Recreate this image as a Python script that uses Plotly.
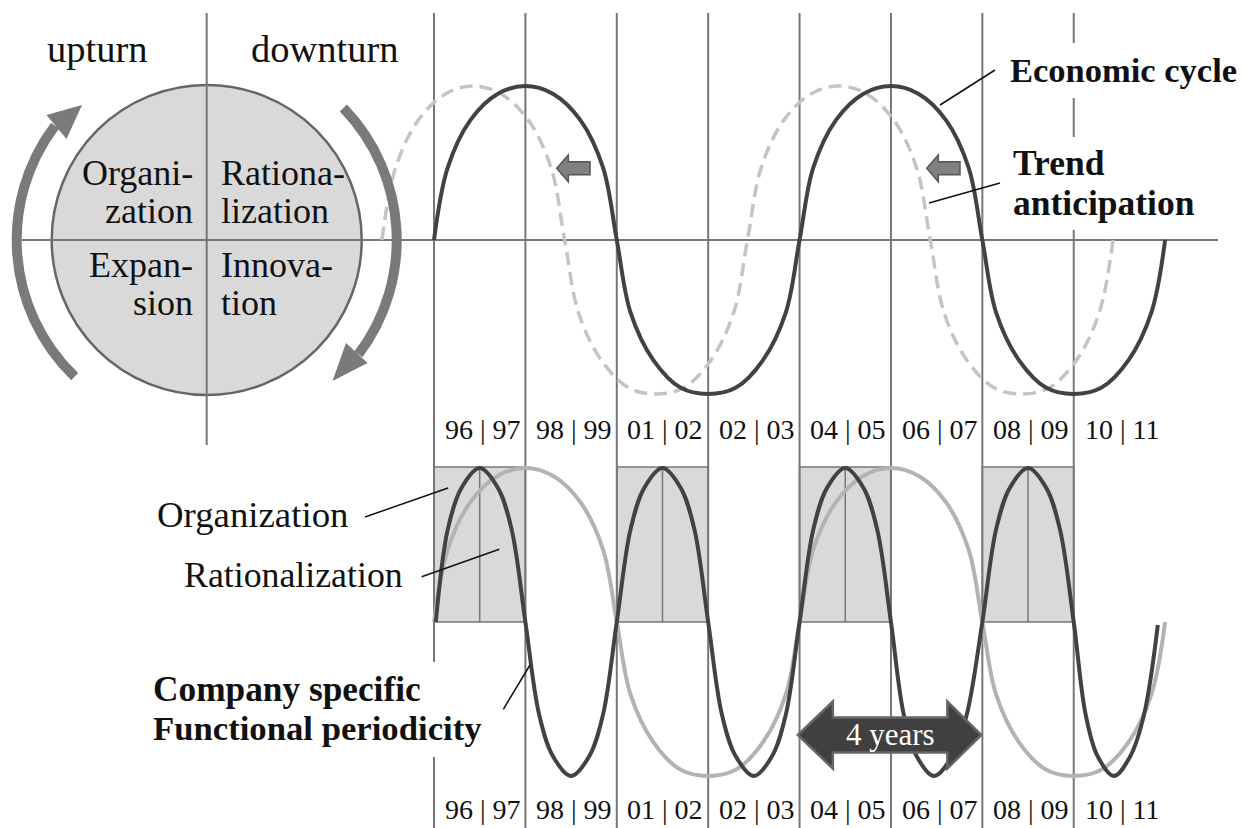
import math
import plotly.graph_objects as go

# ---------------- data ----------------
# x unit = one two-year period column (0 = left edge of "96 | 97")
period_labels = ["96 | 97", "98 | 99", "01 | 02", "02 | 03",
                 "04 | 05", "06 | 07", "08 | 09", "10 | 11"]
period_columns = [0, 1, 2, 3, 4, 5, 6, 7]

# economic cycle (amplitude units, top panel)
econ_x = [0.0, 0.15, 0.4, 0.7, 1.0, 1.3, 1.6, 1.85,
          2.0, 2.15, 2.4, 2.7, 3.0, 3.3, 3.6, 3.85,
          4.0, 4.15, 4.4, 4.7, 5.0, 5.3, 5.6, 5.85,
          6.0, 6.15, 6.4, 6.7, 7.0, 7.3, 7.6, 7.85, 8.0]
econ_y = [0.0, 0.47, 0.78, 0.95, 1.0, 0.95, 0.78, 0.47,
          0.0, -0.47, -0.78, -0.96, -1.0, -0.96, -0.78, -0.47,
          0.0, 0.47, 0.78, 0.95, 1.0, 0.95, 0.78, 0.47,
          0.0, -0.47, -0.78, -0.96, -1.0, -0.96, -0.78, -0.47, 0.0]
trend_lead = 0.57   # trend anticipation runs this many columns ahead

# company specific functional periodicity (bottom panel)
func_x = [0.02, 0.15, 0.3, 0.5, 0.7, 0.85, 1.0, 1.15, 1.3, 1.5, 1.7, 1.85,
          2.0, 2.15, 2.3, 2.5, 2.7, 2.85, 3.0, 3.15, 3.3, 3.5, 3.7, 3.85,
          4.0, 4.15, 4.3, 4.5, 4.7, 4.85, 5.0, 5.14, 5.28, 5.47, 5.67, 5.83,
          6.0, 6.15, 6.3, 6.5, 6.7, 6.85, 7.0, 7.13, 7.26, 7.44, 7.62, 7.77, 7.92]
func_y = [0.0, 0.6, 0.87, 1.0, 0.87, 0.6, 0.0, -0.6, -0.87, -1.0, -0.87, -0.6,
          0.0, 0.6, 0.87, 1.0, 0.87, 0.6, 0.0, -0.6, -0.87, -1.0, -0.87, -0.6,
          0.0, 0.6, 0.87, 1.0, 0.87, 0.6, 0.0, -0.6, -0.87, -1.0, -0.87, -0.6,
          0.0, 0.6, 0.87, 1.0, 0.87, 0.6, 0.0, -0.6, -0.87, -1.0, -0.87, -0.6, -0.02]

phase_box_columns = [0, 2, 4, 6]   # organization | rationalization boxes
span_years_cols = [4, 6]           # "4 years" arrow
span_label = "4 years"

quadrant_left = [("Organi-", "zation"), ("Expan-", "sion")]
quadrant_right = [("Rationa-", "lization"), ("Innova-", "tion")]

# ---------------- geometry / style ----------------
W, H = 1248, 828
X0, COL = 434.0, 91.39
TOP_ZERO, BOT_ZERO, AMP = 240.0, 622.0, 154.0
FONT = "Liberation Serif"
LINE_GREY = "#777777"
DARK = "#424242"
# pixel gaps in period lines where labels sit on them
line_gaps = {0: [(662, 757)], 7: [(43, 98), (137, 230)]}


def X(px):
    return (px - X0) / COL


def Y(py):
    return (TOP_ZERO - py) / AMP


def poly(pts):
    return "M " + " L ".join(f"{X(a):.5f},{Y(b):.5f}" for a, b in pts) + " Z"


def arc_path(cx, cy, r, a0, a1):
    t0, t1 = math.radians(a0), math.radians(a1)
    k = 4.0 / 3.0 * math.tan((t1 - t0) / 4.0)
    p0 = (cx + r * math.cos(t0), cy - r * math.sin(t0))
    p3 = (cx + r * math.cos(t1), cy - r * math.sin(t1))
    d0 = (-r * math.sin(t0), -r * math.cos(t0))
    d1 = (-r * math.sin(t1), -r * math.cos(t1))
    p1 = (p0[0] + k * d0[0], p0[1] + k * d0[1])
    p2 = (p3[0] - k * d1[0], p3[1] - k * d1[1])
    return (f"M {X(p0[0]):.5f},{Y(p0[1]):.5f} C {X(p1[0]):.5f},{Y(p1[1]):.5f} "
            f"{X(p2[0]):.5f},{Y(p2[1]):.5f} {X(p3[0]):.5f},{Y(p3[1]):.5f}")


fig = go.Figure()

# trend anticipation (dashed)
fig.add_trace(go.Scatter(
    x=[v - trend_lead for v in econ_x], y=econ_y, mode="lines", yaxis="y",
    line=dict(color="#c4c4c4", width=3.5, dash="13px,7px", shape="spline", smoothing=1),
    hoverinfo="skip", showlegend=False))
# economic cycle
fig.add_trace(go.Scatter(
    x=econ_x, y=econ_y, mode="lines", yaxis="y",
    line=dict(color=DARK, width=4, shape="spline", smoothing=1),
    hoverinfo="skip", showlegend=False))
# economic cycle repeated in bottom panel
fig.add_trace(go.Scatter(
    x=econ_x, y=econ_y, mode="lines", yaxis="y2",
    line=dict(color="#b3b3b3", width=4, shape="spline", smoothing=1),
    hoverinfo="skip", showlegend=False))
# functional periodicity
fig.add_trace(go.Scatter(
    x=func_x, y=func_y, mode="lines", yaxis="y2",
    line=dict(color=DARK, width=4, shape="spline", smoothing=1),
    hoverinfo="skip", showlegend=False))

shapes = []
# circle
CX, CY, R = 206.7, 240.0, 155.0
shapes.append(dict(type="circle", xref="x", yref="y", layer="below",
                   x0=X(CX - R), x1=X(CX + R), y0=Y(CY + R), y1=Y(CY - R),
                   fillcolor="#d9d9d9", line=dict(color="#666666", width=2.5)))
# phase boxes in the bottom panel
box_top = (BOT_ZERO - 467.0) / AMP
for c in phase_box_columns:
    shapes.append(dict(type="rect", xref="x", yref="y2", layer="below",
                       x0=c, x1=c + 1, y0=0, y1=box_top,
                       fillcolor="#d9d9d9", line=dict(color=LINE_GREY, width=1.5)))
    shapes.append(dict(type="line", xref="x", yref="y2", layer="below",
                       x0=c + 0.5, x1=c + 0.5, y0=0, y1=box_top,
                       line=dict(color=LINE_GREY, width=1.5)))
# vertical period lines (interrupted where labels sit on them)
for c in period_columns:
    start = 13
    segs = []
    for g0, g1 in line_gaps.get(c, []):
        segs.append((start, g0))
        start = g1
    segs.append((start, H))
    for a, b in segs:
        shapes.append(dict(type="line", xref="x", yref="y", layer="below",
                           x0=c, x1=c, y0=Y(a), y1=Y(b),
                           line=dict(color=LINE_GREY, width=2)))
# circle divider and horizontal axis
shapes.append(dict(type="line", xref="x", yref="y", layer="below",
                   x0=X(CX), x1=X(CX), y0=Y(13), y1=Y(445),
                   line=dict(color=LINE_GREY, width=2)))
shapes.append(dict(type="line", xref="x", yref="y", layer="below",
                   x0=X(22), x1=X(1218), y0=0, y1=0,
                   line=dict(color=LINE_GREY, width=2)))

# circular arrows
ARC = "#7a7a7a"
shapes.append(dict(type="path", xref="x", yref="y", layer="above",
                   path=arc_path(CX, CY, 190, 226, 143),
                   line=dict(color=ARC, width=10)))
shapes.append(dict(type="path", xref="x", yref="y", layer="above",
                   path=arc_path(CX, CY, 190, 44, -37),
                   line=dict(color=ARC, width=10)))
shapes.append(dict(type="path", xref="x", yref="y", layer="above",
                   path=poly([(46.5, 115.0), (82.0, 105.0), (66.5, 139.0)]),
                   fillcolor=ARC, line=dict(width=0)))
shapes.append(dict(type="path", xref="x", yref="y", layer="above",
                   path=poly([(367.5, 363.0), (332.5, 381.0), (346.0, 343.0)]),
                   fillcolor=ARC, line=dict(width=0)))

# small "anticipation" arrows
for tip in (556.7, 926.7):
    pts = [(tip, 168.3), (tip + 11.6, 155.0), (tip + 11.6, 161.7), (tip + 33.3, 161.7),
           (tip + 33.3, 174.7), (tip + 11.6, 174.7), (tip + 11.6, 181.7)]
    shapes.append(dict(type="path", xref="x", yref="y", layer="above",
                       path=poly(pts), fillcolor="#808080",
                       line=dict(color="#555555", width=1.5)))

# "4 years" double arrow
xl = X0 + span_years_cols[0] * COL - 1.7
xr = X0 + span_years_cols[1] * COL - 1.0
cyA = 735.0
pts = [(xl, cyA), (xl + 35, cyA - 33.5), (xl + 35, cyA - 17.5), (xr - 34, cyA - 17.5),
       (xr - 34, cyA - 33.5), (xr, cyA), (xr - 34, cyA + 33.5), (xr - 34, cyA + 17.5),
       (xl + 35, cyA + 17.5), (xl + 35, cyA + 33.5)]
shapes.append(dict(type="path", xref="x", yref="y", layer="above",
                   path=poly(pts), fillcolor="#404040",
                   line=dict(color="#666666", width=2.5)))

# leader lines
leaders = [((940, 105), (995, 70)), ((929, 203), (1000, 183)),
           ((365, 517), (448, 488)), ((421.7, 576.7), (499.3, 549.3)),
           ((503.3, 709.3), (530, 665))]
for (a, b), (c, d) in leaders:
    shapes.append(dict(type="line", xref="x", yref="y", layer="above",
                       x0=X(a), y0=Y(b), x1=X(c), y1=Y(d),
                       line=dict(color="#111111", width=1.5)))

annotations = []


def label(px, baseline, s, size, anchor="center", bold=False, color="#111111"):
    cy = baseline - 0.3375 * size
    annotations.append(dict(
        x=X(px), y=Y(cy), xref="x", yref="y", showarrow=False,
        text=("<b>%s</b>" % s) if bold else s,
        xanchor=anchor, yanchor="middle", borderpad=0, borderwidth=0,
        align=anchor if anchor in ("left", "right") else "center",
        font=dict(family=FONT, size=size, color=color)))


label(97.5, 62, "upturn", 38.5)
label(325, 62, "downturn", 38.5)
for (l1, l2), b in zip(quadrant_left, (185, 277)):
    label(192.7, b, l1, 36, anchor="right")
    label(192.7, b + 38, l2, 36, anchor="right")
for (l1, l2), b in zip(quadrant_right, (185, 277)):
    label(220.7, b, l1, 36, anchor="left")
    label(220.7, b + 38, l2, 36, anchor="left")

for c, s in zip(period_columns, period_labels):
    px = X0 + (c + 0.5) * COL + 3
    label(px, 439.3, s, 28)
    label(px, 819.3, s, 28)

label(1010, 81.7, "Economic cycle", 34.5, anchor="left", bold=True)
label(1013, 175, "Trend", 35.5, anchor="left", bold=True)
label(1013, 215, "anticipation", 35.5, anchor="left", bold=True)

label(157, 527, "Organization", 36.8, anchor="left")
label(184, 587, "Rationalization", 35.8, anchor="left")
label(153, 701.7, "Company specific", 35.3, anchor="left", bold=True)
label(153, 740, "Functional periodicity", 34.7, anchor="left", bold=True)

label(890, 745, span_label, 31, color="white")

fig.update_layout(
    width=W, height=H, margin=dict(l=0, r=0, t=0, b=0, pad=0),
    paper_bgcolor="white", plot_bgcolor="white",
    xaxis=dict(visible=False, range=[X(0), X(W)], fixedrange=True),
    yaxis=dict(visible=False, range=[Y(H), Y(0)], fixedrange=True),
    yaxis2=dict(visible=False, overlaying="y", fixedrange=True,
                range=[(BOT_ZERO - H) / AMP, BOT_ZERO / AMP]),
    shapes=shapes, annotations=annotations, showlegend=False,
)

fig.write_html("out.html", config={"displayModeBar": False},
               post_script="document.body.style.margin='0';document.body.style.overflow='hidden';")
